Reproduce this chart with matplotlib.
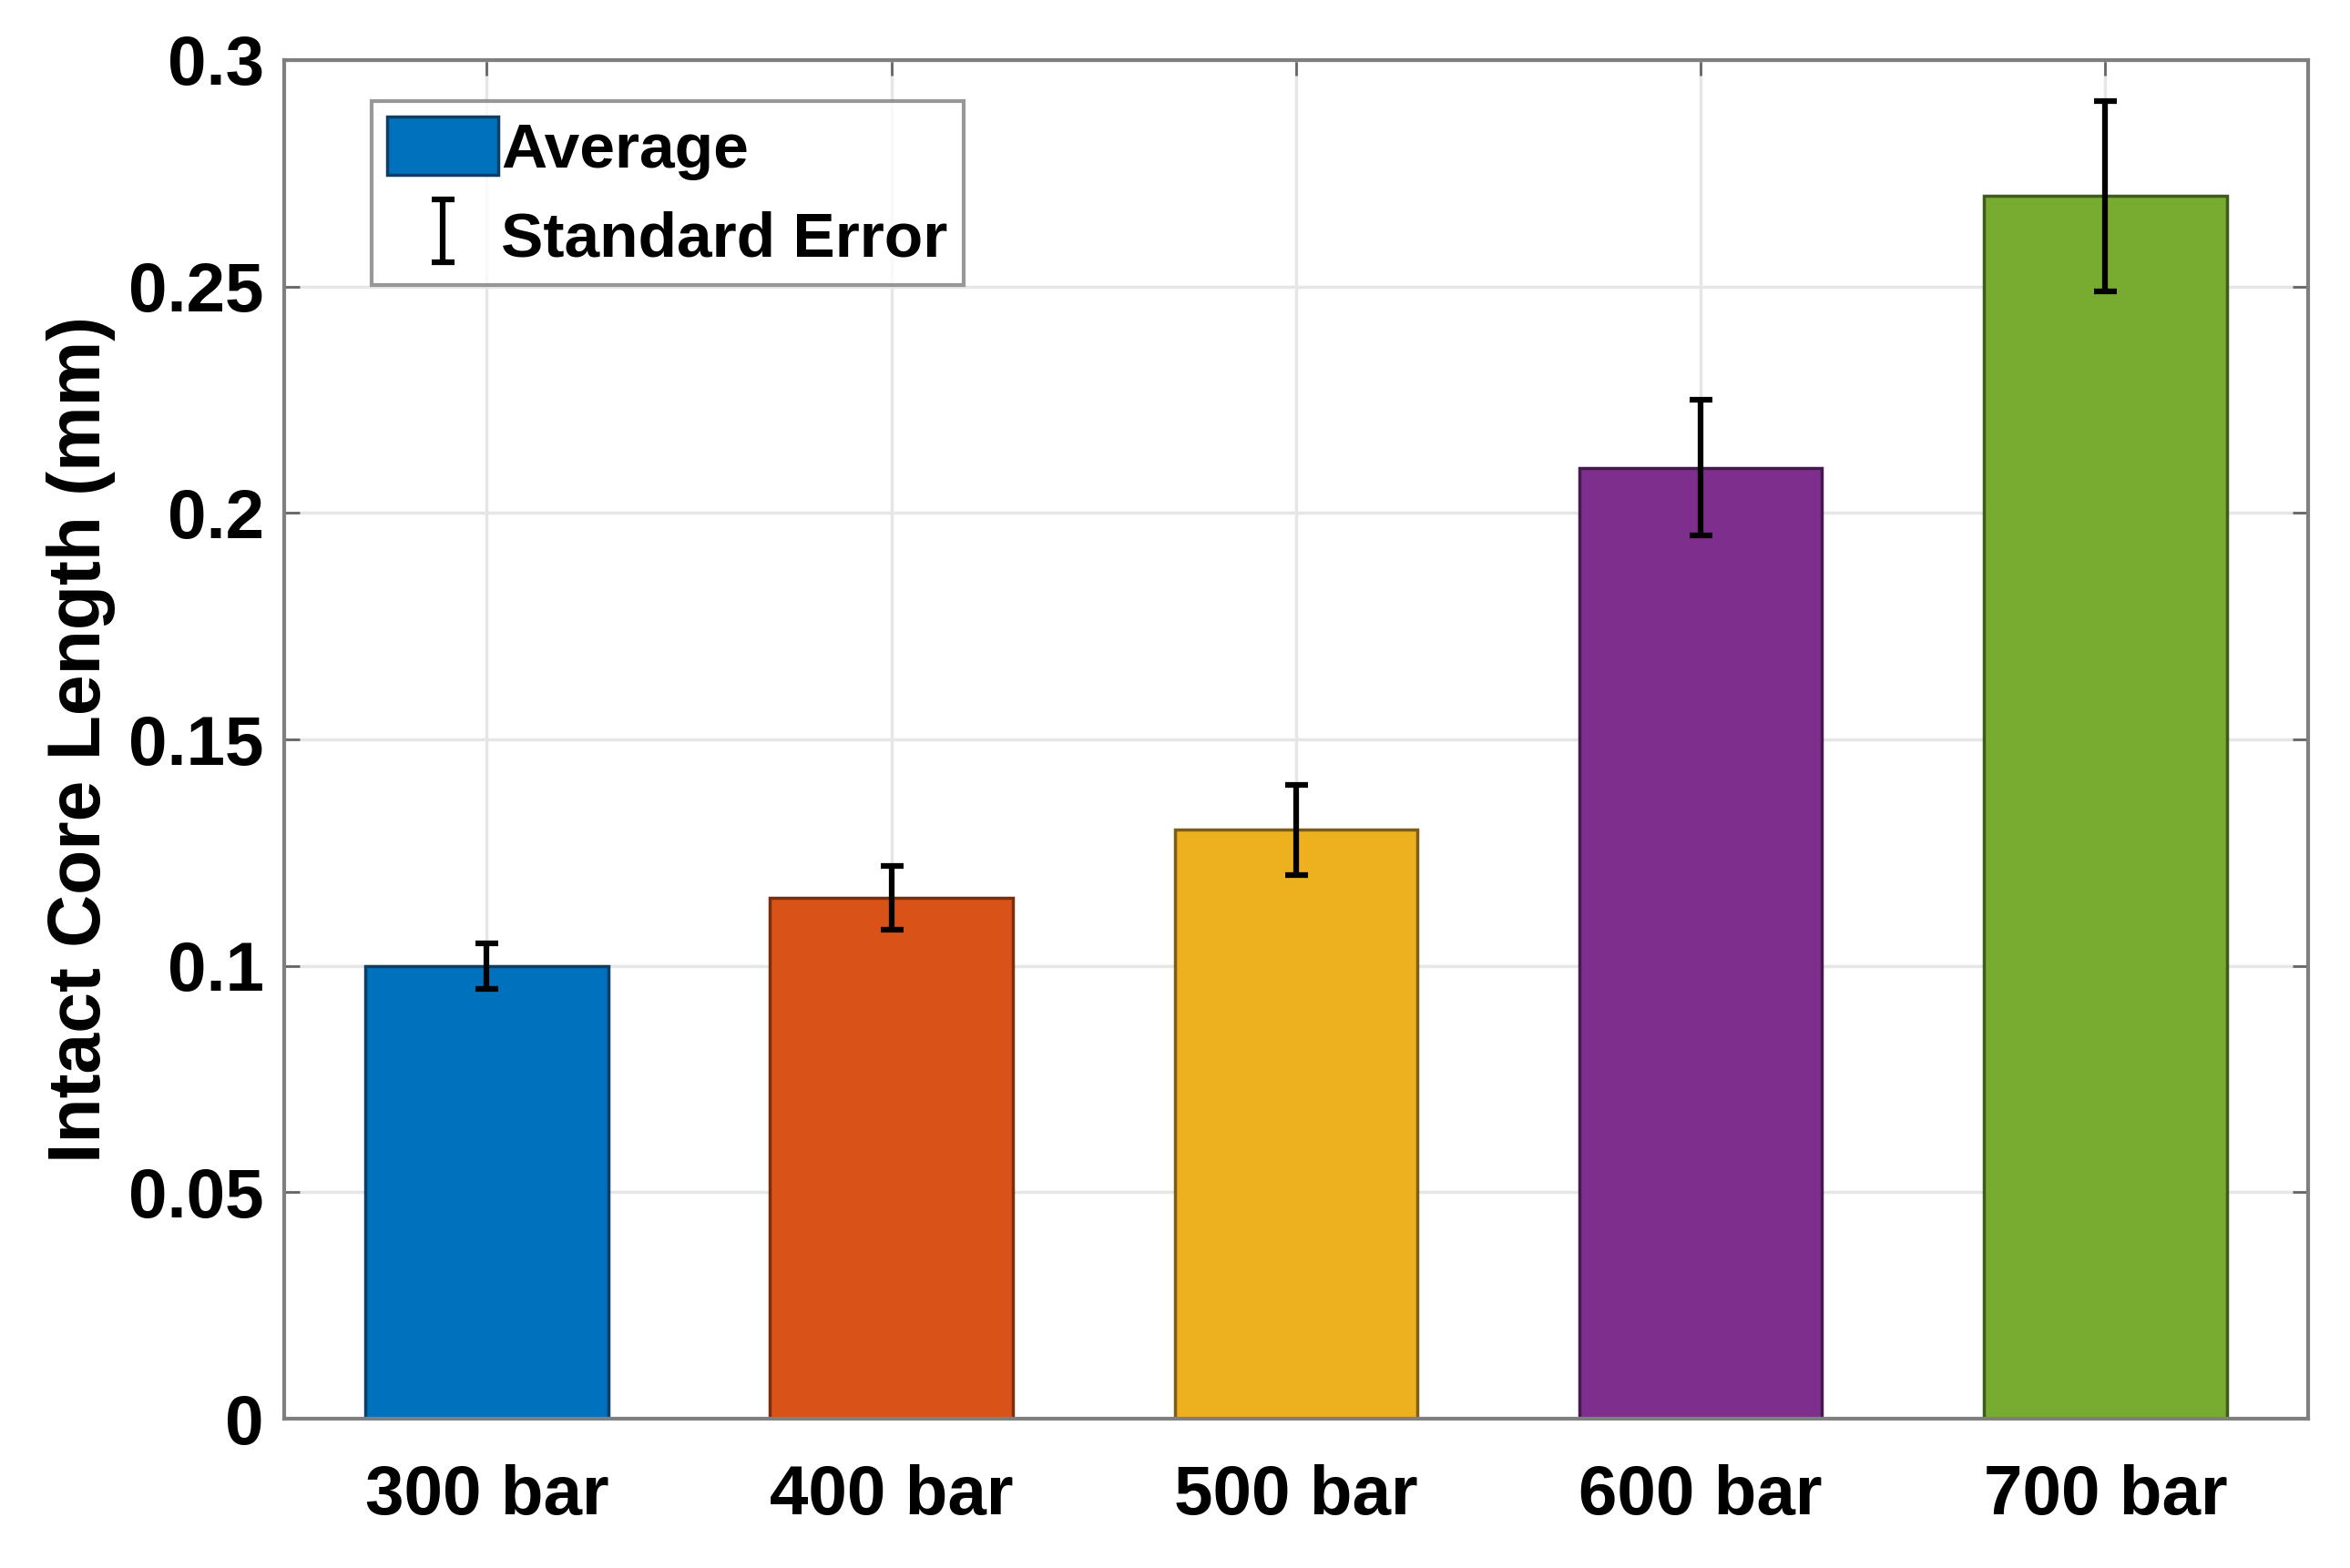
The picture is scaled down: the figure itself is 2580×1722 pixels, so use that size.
import numpy as np
import matplotlib.pyplot as plt

plt.rcParams['font.family'] = ['Liberation Sans', 'DejaVu Sans']
plt.rcParams['font.weight'] = 'bold'

categories = ['300 bar', '400 bar', '500 bar', '600 bar', '700 bar']
average = [0.100, 0.115, 0.130, 0.210, 0.270]
std_err = [0.005, 0.007, 0.010, 0.015, 0.021]
colors = ['#0072BD', '#D95319', '#EDB120', '#7E2F8E', '#77AC30']
edges = ['#0d3f66', '#7a2e0e', '#7d5e14', '#45194e', '#3f5c1a']

x = np.arange(1, len(categories) + 1)

fig = plt.figure(figsize=(25.8, 17.22), dpi=100)
ax = fig.add_axes([0.121, 0.0952, 0.861, 0.8665])

ax.bar(x, average, width=0.6, color=colors, edgecolor=edges, linewidth=2.5,
       label='Average', zorder=2)
ax.errorbar(x, average, yerr=std_err, fmt='none', ecolor='black',
            elinewidth=4.5, capsize=9, capthick=4.5, label='Standard Error', zorder=3)

ax.set_xlim(0.5, 5.5)
ax.set_ylim(0, 0.3)
ax.set_xticks(x)
ax.set_xticklabels(categories)
ax.set_yticks([0, 0.05, 0.1, 0.15, 0.2, 0.25, 0.3])
ax.set_yticklabels(['0', '0.05', '0.1', '0.15', '0.2', '0.25', '0.3'])
ax.tick_params(axis='both', labelsize=55, direction='in', length=12, width=2,
               color='#666666', top=True, right=True)
ax.tick_params(axis='x', pad=36)
ax.tick_params(axis='y', pad=16)
for lbl in ax.get_xticklabels() + ax.get_yticklabels():
    lbl.set_fontweight('bold')
ax.set_ylabel('Intact Core Length (mm)', fontsize=58, fontweight='bold', labelpad=10)

ax.grid(True, color='#e6e6e6', linewidth=2.5, zorder=0)
ax.set_axisbelow(True)
for s in ax.spines.values():
    s.set_color('#7f7f7f')
    s.set_linewidth(3)

leg = ax.legend(loc='upper left', bbox_to_anchor=(0.043, 0.97), fontsize=50,
                frameon=True, fancybox=False, edgecolor='#7f7f7f',
                handlelength=1.75, handleheight=1.05, handletextpad=0.05,
                borderpad=0.25, labelspacing=0.4, borderaxespad=0)
leg.get_frame().set_linewidth(3)
for t in leg.get_texts():
    t.set_fontweight('bold')

fig.savefig('out.png', dpi=100)
